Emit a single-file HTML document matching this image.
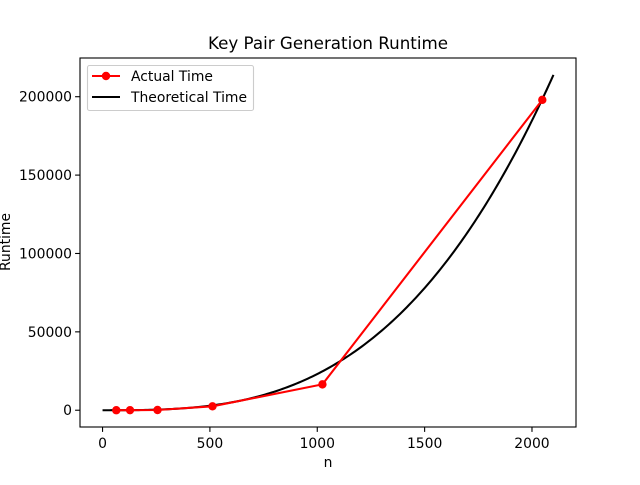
<!DOCTYPE html>
<html><head><meta charset="utf-8"><style>
body{margin:0;background:#fff}
svg text{font-family:"DejaVu Sans","Liberation Sans",sans-serif;fill:#000}
</style></head><body>
<svg id="chart" width="640" height="480" xmlns="http://www.w3.org/2000/svg"></svg>
<script>
const actualN = [64, 128, 256, 512, 1024, 2048];
const actualTime = [5, 30, 150, 2500, 16500, 198000];
const xTicks = [0, 500, 1000, 1500, 2000];
const yTicks = [0, 50000, 100000, 150000, 200000];
const theoryCoef = 2.31e-5;
const theoryMaxN = 2100;

const L=80,R=576,T=58,B=427;
const xMin=-105,xMax=2205,yMin=-10700,yMax=224700;
const sx=v=>L+(v-xMin)/(xMax-xMin)*(R-L);
const sy=v=>B-(v-yMin)/(yMax-yMin)*(B-T);
const svg=document.getElementById('chart');
const NS='http://www.w3.org/2000/svg';
function mk(tag,attrs,parent){const e=document.createElementNS(NS,tag);for(const k in attrs)e.setAttribute(k,attrs[k]);(parent||svg).appendChild(e);return e;}

let t=mk('text',{x:328,y:49,'text-anchor':'middle','font-size':16.7});t.textContent='Key Pair Generation Runtime';



let pts=[];
for(let i=0;i<=200;i++){const n=theoryMaxN*i/200;pts.push(sx(n).toFixed(2)+','+sy(theoryCoef*n*n*n).toFixed(2));}
let th=mk('polyline',{points:pts.join(' '),fill:'none',stroke:'#000','stroke-width':2.08});



let ap=actualN.map((n,i)=>sx(n)+','+sy(actualTime[i])).join(' ');
let al=mk('polyline',{points:ap,fill:'none',stroke:'#ff0000','stroke-width':2.08});


actualN.forEach((n,i)=>{
  const c=mk('circle',{cx:sx(n),cy:sy(actualTime[i]),r:4.2,fill:'#ff0000'});
  
  
});

let fr=mk('rect',{x:L,y:T,width:R-L,height:B-T,fill:'none',stroke:'#000','stroke-width':1.1});



xTicks.forEach(v=>{
  const x=sx(v);
  mk('line',{x1:x,x2:x,y1:B,y2:B+4.9,stroke:'#000','stroke-width':1.1});
  const tx=mk('text',{x:x,y:448,'text-anchor':'middle','font-size':13.9});tx.textContent=v;
  
  
});
yTicks.forEach(v=>{
  const y=sy(v);
  mk('line',{x1:L-4.9,x2:L,y1:y,y2:y,stroke:'#000','stroke-width':1.1});
  const ty=mk('text',{x:L-8,y:y+5,'text-anchor':'end','font-size':13.9});ty.textContent=v;
  
  
});
let xl=mk('text',{x:328,y:467,'text-anchor':'middle','font-size':13.9});xl.textContent='n';


let yl=mk('text',{x:0,y:0,'text-anchor':'middle','font-size':13.9,transform:'translate(10,242) rotate(-90)'});yl.textContent='Runtime';



const lg=mk('g',{});


mk('rect',{x:87.5,y:65.5,width:166,height:45,rx:2,fill:'#fff','fill-opacity':0.8,stroke:'#ccc','stroke-width':1.1},lg);
mk('line',{x1:92,x2:120,y1:76,y2:76,stroke:'#ff0000','stroke-width':2.08},lg);
mk('circle',{cx:106,cy:76,r:4.2,fill:'#ff0000'},lg);
let l1=mk('text',{x:131,y:81,'font-size':13.9},lg);l1.textContent='Actual Time';


mk('line',{x1:92,x2:120,y1:97,y2:97,stroke:'#000','stroke-width':2.08},lg);
let l2=mk('text',{x:131,y:102,'font-size':13.9},lg);l2.textContent='Theoretical Time';


</script>
</body></html>
